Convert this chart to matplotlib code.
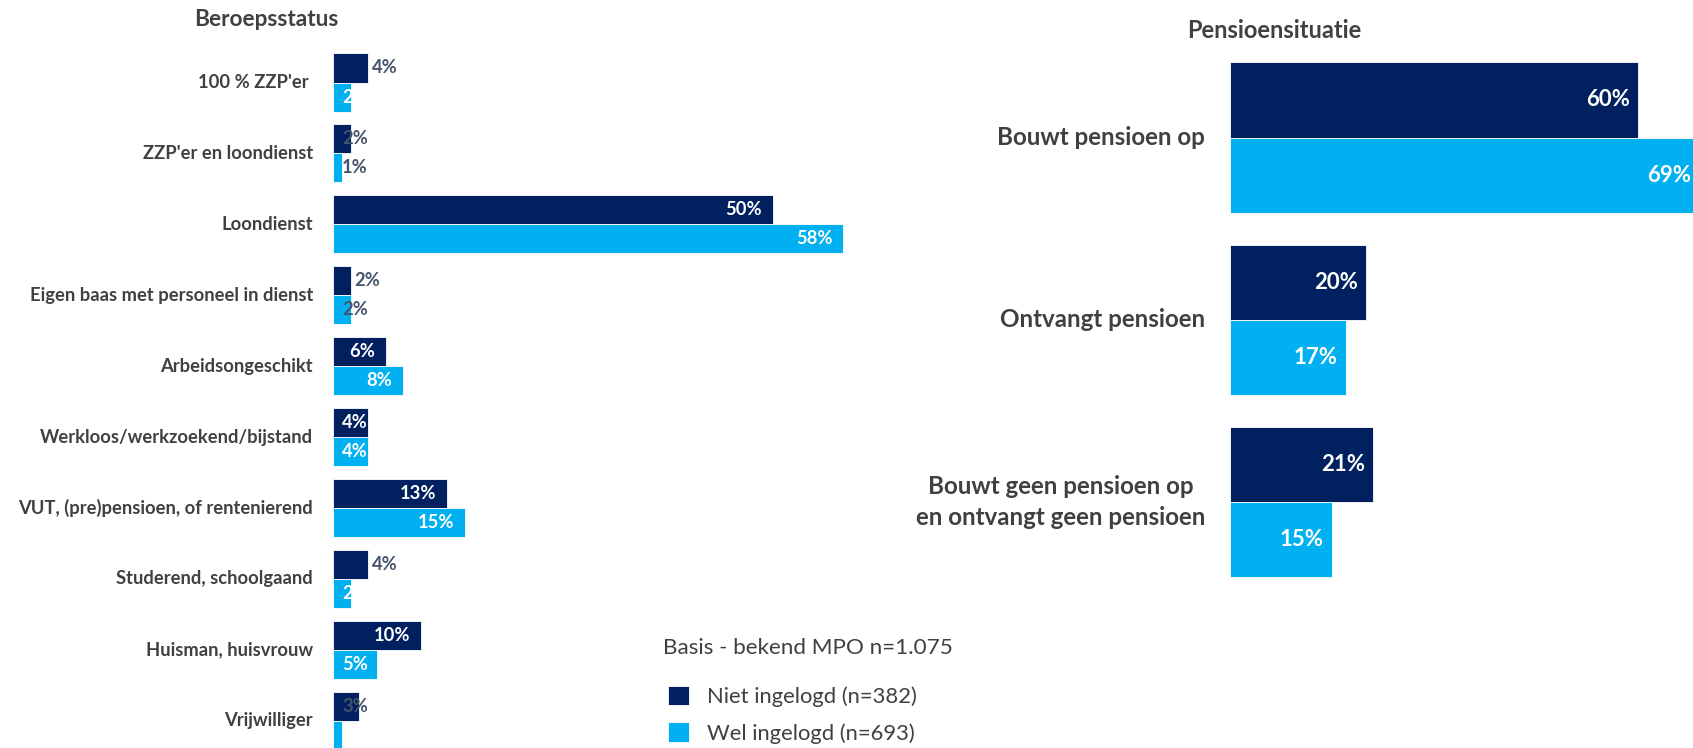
# -*- coding:utf-8 -*-

import matplotlib.pyplot as plt
import numpy as np

plt.rcParams['font.family'] = ['Lato', 'DejaVu Sans']

# data
beroep = ["100 % ZZP'er ", "ZZP'er en loondienst", "Loondienst",
          "Eigen baas met personeel in dienst", "Arbeidsongeschikt",
          "Werkloos/werkzoekend/bijstand", "VUT, (pre)pensioen, of rentenierend",
          "Studerend, schoolgaand", "Huisman, huisvrouw", "Vrijwilliger"]
beroep_niet = [4, 2, 50, 2, 6, 4, 13, 4, 10, 3]
beroep_wel = [2, 1, 58, 2, 8, 4, 15, 2, 5, 1]

pensioen = ["Bouwt pensioen op", "Ontvangt pensioen",
            "Bouwt geen pensioen op\nen ontvangt geen pensioen"]
pensioen_niet = [60, 20, 21]
pensioen_wel = [69, 17, 15]

series = ["Niet ingelogd (n=382)", "Wel ingelogd (n=693)"]
basis = "Basis - bekend MPO n=1.075"

# where the value labels sit on the left chart
pos_niet = ['out', 'base', 'in', 'out', 'in', 'base', 'in', 'out', 'in', 'base']
pos_wel = ['base', 'base', 'in', 'base', 'in', 'base', 'in', 'base', 'base', 'base']
col_niet = ['g', 'g', 'w', 'g', 'w', 'w', 'w', 'g', 'w', 'g']
col_wel = ['w', 'g', 'w', 'g', 'w', 'w', 'w', 'w', 'w', 'w']

DARK = '#002060'
LIGHT = '#00B0F0'
GREY = '#44546A'
TXT = '#404040'
W, H = 1693, 748

fig = plt.figure(figsize=(W / 100, H / 100), dpi=100)

# ---- Beroepsstatus ----
ax1 = fig.add_axes([333 / W, 0, 528 / W, 1])
pxl = 8.8  # px per %
ax1.set_xlim(0, 60)
ax1.set_ylim((H - 82.5) / 70.9, -82.5 / 70.9)
ax1.axis('off')

y = np.arange(len(beroep))
h = 0.41
b1 = ax1.barh(y - h / 2, beroep_niet, height=h, color=DARK, edgecolor='white', linewidth=0.6)
b2 = ax1.barh(y + h / 2, beroep_wel, height=h, color=LIGHT, edgecolor='white', linewidth=0.6)

for i, lab in enumerate(beroep):
    ax1.text(-20 / pxl, y[i], lab, ha='right', va='center', fontsize=13.2,
             fontweight='bold', color=TXT)


def put_label(ax, yy, v, pos, c):
    color = GREY if c == 'g' else 'white'
    kw = dict(va='center', fontsize=13.2, fontweight='bold', color=color)
    if pos == 'in':
        ax.text(v - 11 / pxl, yy, '%d%%' % v, ha='right', **kw)
    elif pos == 'out':
        ax.text(v + 4 / pxl, yy, '%d%%' % v, ha='left', **kw)
    else:
        ax.text(9 / pxl, yy, '%d%%' % v, ha='left', **kw)


for i in range(len(beroep)):
    put_label(ax1, y[i] - h / 2, beroep_niet[i], pos_niet[i], col_niet[i])
    put_label(ax1, y[i] + h / 2, beroep_wel[i], pos_wel[i], col_wel[i])

fig.text(266 / W, 1 - 19 / H, 'Beroepsstatus', ha='center', va='center',
         fontsize=16.3, fontweight='bold', color=TXT)

# ---- Pensioensituatie ----
ax2 = fig.add_axes([1230 / W, 0, 476 / W, 1])
pxr = 476 / 70
ax2.set_xlim(0, 70)
ax2.set_ylim((H - 137.6) / 182.2, -137.6 / 182.2)
ax2.axis('off')

y2 = np.arange(len(pensioen))
h2 = 0.413
ax2.barh(y2 - h2 / 2, pensioen_niet, height=h2, color=DARK, edgecolor='white', linewidth=0.6)
ax2.barh(y2 + h2 / 2, pensioen_wel, height=h2, color=LIGHT, edgecolor='white', linewidth=0.6)

for i, lab in enumerate(pensioen):
    ax2.text(-25 / pxr, y2[i], lab, ha='right', va='center', multialignment='center',
             fontsize=17.4, fontweight='bold', color=TXT, linespacing=1.4)
    ax2.text(pensioen_niet[i] - 8 / pxr, y2[i] - h2 / 2, '%d%%' % pensioen_niet[i],
             ha='right', va='center', fontsize=16, fontweight='bold', color='white')
    ax2.text(pensioen_wel[i] - 8 / pxr, y2[i] + h2 / 2, '%d%%' % pensioen_wel[i],
             ha='right', va='center', fontsize=16, fontweight='bold', color='white')

fig.text(1274 / W, 1 - 30 / H, 'Pensioensituatie', ha='center', va='center',
         fontsize=17, fontweight='bold', color=TXT)

# ---- legend ----
fig.text(663 / W, 1 - 648 / H, basis, ha='left', va='center', fontsize=16.2, color=TXT)
fig.legend([b1, b2], series, loc='upper left', bbox_to_anchor=(668 / W, 1 - 686 / H),
           frameon=False, fontsize=15.8, labelcolor=TXT, borderpad=0, borderaxespad=0,
           handlelength=0.96, handleheight=0.96, handletextpad=0.8, labelspacing=0.7)

plt.savefig('out.png', dpi=100)
